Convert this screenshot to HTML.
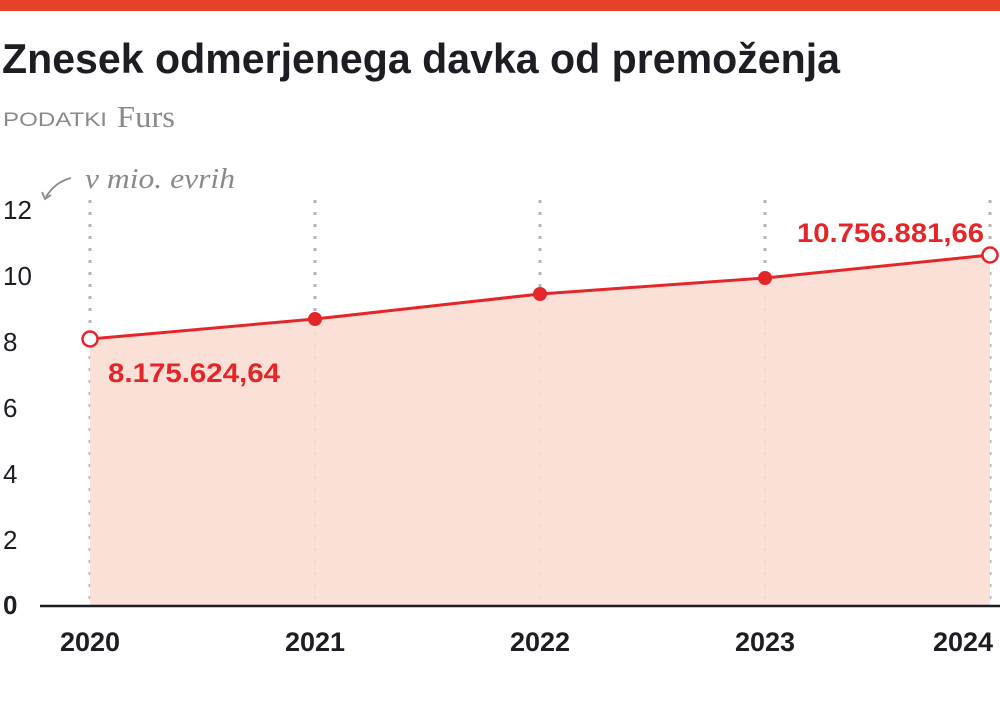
<!DOCTYPE html>
<html><head><meta charset="utf-8"><style>html,body{margin:0;padding:0;background:#fff}svg{display:block}</style></head>
<body>
<svg width="1000" height="714" viewBox="0 0 1000 714" xmlns="http://www.w3.org/2000/svg">
<rect x="0" y="0" width="1000" height="11" fill="#e8412a"/>
<text x="2" y="73" font-family="Liberation Sans, sans-serif" font-weight="bold" font-size="42" fill="#1d1d24" textLength="838" lengthAdjust="spacingAndGlyphs">Znesek odmerjenega davka od premoženja</text>
<text x="3" y="126" font-family="Liberation Sans, sans-serif" font-size="19" fill="#8a8a8a" textLength="104" lengthAdjust="spacingAndGlyphs">PODATKI</text>
<text x="117" y="127" font-family="Liberation Serif, serif" font-size="31" fill="#8a8a8a" textLength="58" lengthAdjust="spacingAndGlyphs">Furs</text>
<text x="85" y="188" font-family="Liberation Serif, serif" font-style="italic" font-size="29" fill="#8a8a8a" textLength="150" lengthAdjust="spacingAndGlyphs">v mio. evrih</text>
<path d="M71 178 Q55 182 46 197" fill="none" stroke="#8a8a8a" stroke-width="1.8"/>
<path d="M42 192 L45 199 L51 195" fill="none" stroke="#8a8a8a" stroke-width="1.8"/>
<g stroke="#b5b5b5" stroke-width="3" stroke-dasharray="3 9">
<line x1="90" y1="200" x2="90" y2="606"/><line x1="315" y1="200" x2="315" y2="606"/><line x1="540" y1="200" x2="540" y2="606"/><line x1="765" y1="200" x2="765" y2="606"/><line x1="990" y1="200" x2="990" y2="606"/>
</g>
<polygon points="90,339 315,319 540,294 765,278 990,255 990,606 90,606" fill="#f9ddd3" opacity="0.9"/>
<polyline points="90,339 315,319 540,294 765,278 990,255" fill="none" stroke="#e52628" stroke-width="3"/>
<circle cx="315" cy="319" r="7" fill="#e52628"/><circle cx="540" cy="294" r="7" fill="#e52628"/><circle cx="765" cy="278" r="7" fill="#e52628"/>
<circle cx="90" cy="339" r="7.5" fill="#fff" stroke="#e52628" stroke-width="2.5"/><circle cx="990" cy="255" r="7.5" fill="#fff" stroke="#e52628" stroke-width="2.5"/>
<line x1="40" y1="606" x2="1000" y2="606" stroke="#1d1d24" stroke-width="2.5"/>
<g font-family="Liberation Sans, sans-serif" font-size="26" fill="#1d1d24">
<text x="3" y="219">12</text><text x="3" y="285">10</text><text x="3" y="351">8</text><text x="3" y="417">6</text><text x="3" y="483">4</text><text x="3" y="549">2</text><text x="3" y="614" font-weight="bold">0</text>
</g>
<g font-family="Liberation Sans, sans-serif" font-size="27" font-weight="bold" fill="#1d1d24" text-anchor="middle">
<text x="90" y="651">2020</text><text x="315" y="651">2021</text><text x="540" y="651">2022</text><text x="765" y="651">2023</text><text x="963" y="651">2024</text>
</g>
<text x="108" y="382" font-family="Liberation Sans, sans-serif" font-size="27" font-weight="bold" fill="#e52628" textLength="172" lengthAdjust="spacingAndGlyphs">8.175.624,64</text>
<text x="797" y="242" font-family="Liberation Sans, sans-serif" font-size="27" font-weight="bold" fill="#e52628" textLength="187" lengthAdjust="spacingAndGlyphs">10.756.881,66</text>
</svg>
</body></html>
